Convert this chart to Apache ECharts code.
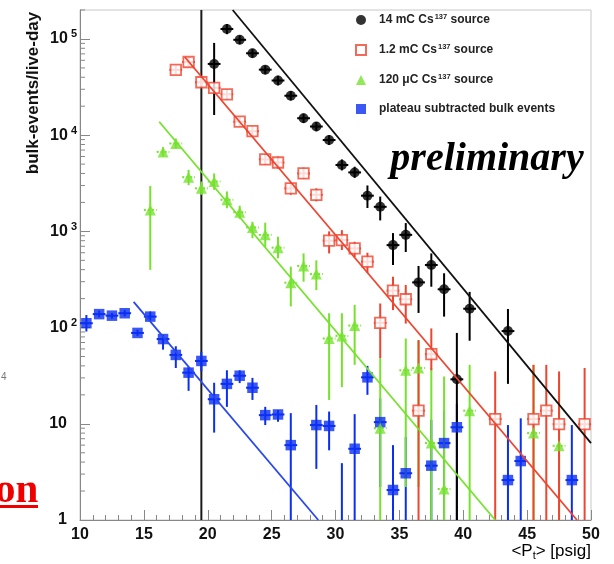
<!DOCTYPE html>
<html>
<head>
<meta charset="utf-8">
<script src="https://cdn.jsdelivr.net/npm/echarts@6/dist/echarts.min.js"></script>
<style>
  html, body { margin: 0; padding: 0; background: #fff; }
  #chart { width: 614px; height: 564px; }
</style>
</head>
<body>
<div id="chart"></div>
<script>
// bin centres (psig), rate (bulk-events/live-day) and error bar ends
const blackX = [20.5, 21.5, 22.5, 23.5, 24.5, 25.5, 26.5, 27.5, 28.5, 29.5, 30.5, 31.5, 32.5, 33.5, 34.5, 35.5, 36.5, 37.5, 38.5, 39.5, 40.5, 43.5];
const blackY = [55000, 127000, 98000, 71000, 48000, 37000, 25700, 15000, 12300, 8900, 4900, 4100, 2350, 1800, 720, 920, 295, 447, 250, 29, 157, 92];
const blackLo = [16200, 112000, 88000, 64000, 43000, 33000, 23000, 13400, 11000, 7900, 4300, 3600, 1750, 1300, 447, 610, 142, 266, 130, 0.5, 73, 26];
const blackHi = [91000, 143000, 109000, 79000, 53000, 41500, 28700, 16800, 13700, 10000, 5600, 4700, 3000, 2300, 960, 1220, 437, 590, 367, 88, 235, 156];

const redX = [17.5, 18.5, 19.5, 20.5, 21.5, 22.5, 23.5, 24.5, 25.5, 26.5, 27.5, 28.5, 29.5, 30.5, 31.5, 32.5, 33.5, 34.5, 35.5, 36.5, 37.5, 42.5, 45.5, 46.5, 47.5, 49.5];
const redY = [47700, 57600, 35500, 31000, 26600, 13800, 11000, 5600, 5200, 2800, 4000, 2400, 800, 813, 665, 484, 112, 242, 197, 13.7, 53, 11.2, 11.2, 13.7, 9.9, 9.9];
const redLo = [43000, 52000, 32000, 27500, 23500, 12300, 9800, 4900, 4500, 2400, 3500, 2050, 590, 640, 540, 370, 48, 152, 110, 0.5, 36, 0.5, 0.5, 0.5, 0.5, 0.5];
const redHi = [53000, 64000, 39500, 35000, 30000, 15500, 12400, 6400, 6000, 3250, 4600, 2800, 1000, 1030, 780, 600, 178, 338, 277, 74, 98, 35, 41, 41, 35, 38];

const greenX = [15.5, 16.5, 17.5, 18.5, 19.5, 20.5, 21.5, 22.5, 23.5, 24.5, 25.5, 26.5, 27.5, 28.5, 29.5, 30.5, 31.5, 33.5, 35.5, 36.5, 37.5, 38.5, 40.5, 45.5, 47.5];
const greenY = [1670, 6700, 8200, 3660, 2800, 3300, 2130, 1580, 1100, 920, 677, 293, 437, 360, 77, 82, 105, 9, 36, 38, 6.3, 2.1, 13.7, 8, 5.9];
const greenLo = [398, 6000, 7300, 3020, 2400, 2700, 1740, 1350, 850, 690, 525, 166, 300, 245, 17.7, 24, 41, 0.5, 2.2, 2.2, 0.5, 0.5, 0.5, 0.5, 0.5];
const greenHi = [2960, 7500, 9200, 4360, 3300, 4000, 2600, 1850, 1260, 1230, 880, 430, 590, 500, 141, 141, 172, 48, 77, 74, 38, 31, 41, 41, 28];

const blueX = [10.5, 11.5, 12.5, 13.5, 14.5, 15.5, 16.5, 17.5, 18.5, 19.5, 20.5, 21.5, 22.5, 23.5, 24.5, 25.5, 26.5, 28.5, 29.5, 30.5, 31.5, 32.5, 33.5, 34.5, 35.5, 37.5, 38.5, 39.5, 43.5, 44.5, 48.5];
const blueY = [111, 138, 133, 141, 88, 130, 76, 52, 34, 45, 18, 26, 31.6, 23.7, 12.3, 12.5, 6.0, 9.7, 9.5, 0.5, 5.5, 30.4, 10.4, 2.05, 3.06, 3.67, 6.3, 9.2, 2.6, 4.1, 2.6];
const blueLo = [91, 128, 124, 131, 82, 118, 59, 38, 22, 35, 8.1, 15, 26.5, 17.7, 9.7, 10.5, 0.5, 3.4, 5.3, 0.5, 0.5, 20, 2.2, 0.5, 0.5, 0.5, 0.5, 0.5, 0.5, 0.5, 0.5];
const blueHi = [135, 150, 142, 152, 95, 147, 84, 64, 39, 56, 26.7, 36, 36, 30, 15, 13.9, 12.9, 15.7, 13.4, 3.9, 12.6, 40, 18.4, 6.0, 7.3, 11, 13.7, 16.1, 9.7, 11.4, 9.7];

// exponential fits, given by their two end points
const fitBlack = [[21.95, 200000], [50, 6.3]];
const fitRed = [[18.2, 65000], [48.9, 1]];
const fitGreen = [[16.2, 13800], [42.5, 1]];
const fitBlue = [[14.2, 185], [28.65, 1]];

const cutPressure = 19.5;

const seriesNames = ['14 mC Cs137 source', '1.2 mC Cs137 source', '120 \u03bcC Cs137 source', 'plateau subtracted bulk events'];

const Y_MIN = 1, Y_MAX = 200000;
const FONT = '"Liberation Sans", Arial, Helvetica, sans-serif';
const C = { black: '#000000', red: '#ef4530', green: '#76e22e', blue: '#0a2ef2' };

// minor ticks for the log axis (2..9 in each decade)
const yMinorTicks = [];
for (let d = 1; d < Y_MAX; d *= 10) {
  for (let k = 2; k <= 9; k++) if (k * d <= Y_MAX) yMinorTicks.push(k * d);
}

function errorBars(xs, ys, lo, hi, color, dashed) {
  return {
    type: 'custom',
    silent: true,
    z: 3,
    clip: true,
    data: xs.map((x, i) => [x, ys[i], lo[i], hi[i]]),
    renderItem(params, api) {
      const x = api.value(0), v = api.value(1);
      const l = Math.max(api.value(2), Y_MIN), h = Math.min(api.value(3), Y_MAX);
      const kids = [];
      if (h > l) {
        const a = api.coord([x, l]), b = api.coord([x, h]);
        kids.push({ type: 'line', shape: { x1: a[0], y1: a[1], x2: b[0], y2: b[1] },
          style: { stroke: color, lineWidth: 2 } });
      }
      if (v >= Y_MIN) {
        const a = api.coord([x - 0.5, v]), b = api.coord([x + 0.5, v]);
        kids.push({ type: 'line', shape: { x1: a[0], y1: a[1], x2: b[0], y2: b[1] },
          style: { stroke: color, lineWidth: 2, lineDash: dashed ? [2, 2] : null } });
      }
      return { type: 'group', children: kids };
    }
  };
}

function markers(name, xs, ys, symbol, size, itemStyle) {
  return {
    type: 'scatter', name, symbol, symbolSize: size, z: 4, clip: true,
    data: xs.map((x, i) => [x, ys[i]]),
    itemStyle
  };
}

function fitLine(pts, color) {
  return {
    type: 'line', data: pts, showSymbol: false, silent: true, z: 5,
    lineStyle: { color, width: 1.8 }
  };
}

const chart = echarts.init(document.getElementById('chart'));

chart.setOption({
  animation: false,
  backgroundColor: '#fff',
  grid: { left: 80, right: 23, top: 10, bottom: 44, show: true, borderColor: '#c8c8c8', borderWidth: 1 },
  legend: {
    orient: 'vertical', left: 350, top: 8,
    itemWidth: 10, itemHeight: 10, itemGap: 17,
    data: [
      { name: seriesNames[0], icon: 'circle' },
      { name: seriesNames[1], icon: 'rect' },
      { name: seriesNames[2], icon: 'triangle' },
      { name: seriesNames[3], icon: 'rect' }
    ],
    formatter: name => {
      const i = name.indexOf('Cs137');
      if (i < 0) return '{p|}{t|' + name + '}';
      return '{p|}{t|' + name.slice(0, i) + 'Cs}{s|137}{t|' + name.slice(i + 5) + '}';
    },
    textStyle: {
      fontFamily: FONT, color: '#222',
      rich: {
        p: { width: 8, lineHeight: 14 },
        t: { fontFamily: FONT, fontSize: 12, fontWeight: 'bold', color: '#222', lineHeight: 14 },
        s: { fontFamily: FONT, fontSize: 7.5, fontWeight: 'bold', color: '#222', lineHeight: 10, verticalAlign: 'top', padding: [0, 0, 0, 1] }
      }
    }
  },
  xAxis: {
    type: 'value', min: 10, max: 50, interval: 5,
    axisLine: { lineStyle: { color: '#888' } },
    axisTick: { inside: true, length: 10, lineStyle: { color: '#888' } },
    minorTick: { show: true, splitNumber: 5, length: 5, lineStyle: { color: '#888' } },
    splitLine: { show: false },
    axisLabel: { fontFamily: FONT, fontSize: 16, fontWeight: 'bold', color: '#111', margin: 7 }
  },
  yAxis: {
    type: 'log', logBase: 10, min: Y_MIN, max: Y_MAX,
    axisLine: { show: true, lineStyle: { color: '#888' } },
    axisTick: { inside: true, length: 10, lineStyle: { color: '#888' } },
    splitLine: { show: false },
    axisLabel: {
      margin: 3, showMaxLabel: false,
      formatter: v => {
        const e = Math.log10(v);
        if (Math.abs(e - Math.round(e)) > 1e-6) return '';
        const n = Math.round(e);
        if (n === 0) return '{n|1}';
        if (n === 1) return '{n|10}';
        return '{b|10}{e|' + n + '}';
      },
      rich: {
        n: { fontFamily: FONT, fontSize: 16, fontWeight: 'bold', color: '#111', lineHeight: 20, padding: [0, 10, 0, 0] },
        b: { fontFamily: FONT, fontSize: 16, fontWeight: 'bold', color: '#111', lineHeight: 20 },
        e: { fontFamily: FONT, fontSize: 11, fontWeight: 'bold', color: '#111', lineHeight: 12, verticalAlign: 'top', padding: [0, 0, 0, 3] }
      }
    }
  },
  series: [
    {
      type: 'custom', silent: true, z: 2, clip: false,
      data: yMinorTicks.map(v => [10, v]),
      renderItem(params, api) {
        const p = api.coord([10, api.value(1)]);
        return { type: 'line', shape: { x1: p[0], y1: p[1], x2: p[0] + 5, y2: p[1] }, style: { stroke: '#888', lineWidth: 1 } };
      }
    },
    {
      type: 'line', silent: true, showSymbol: false, z: 2,
      data: [[cutPressure, Y_MIN], [cutPressure, Y_MAX]],
      lineStyle: { color: '#1a1a1a', width: 2 }
    },
    errorBars(blueX, blueY, blueLo, blueHi, C.blue, false),
    errorBars(greenX, greenY, greenLo, greenHi, C.green, true),
    errorBars(redX, redY, redLo, redHi, C.red, false),
    errorBars(blackX, blackY, blackLo, blackHi, C.black, false),
    markers(seriesNames[3], blueX, blueY, 'rect', 10.5, { color: C.blue }),
    markers(seriesNames[2], greenX, greenY, 'triangle', 11, { color: C.green }),
    markers(seriesNames[1], redX, redY, 'rect', 10.5, { color: '#fff', borderColor: C.red, borderWidth: 1.8 }),
    markers(seriesNames[0], blackX, blackY, 'circle', 10, { color: C.black }),
    fitLine(fitBlue, '#2a48f0'),
    fitLine(fitGreen, C.green),
    fitLine(fitRed, C.red),
    fitLine(fitBlack, '#111')
  ],
  graphic: [
    {
      type: 'text', x: 33, y: 93, rotation: Math.PI / 2,
      style: { text: 'bulk-events/live-day', font: 'bold 17px ' + FONT, fill: '#111', align: 'center', verticalAlign: 'middle' }
    },
    {
      type: 'text', x: 591, y: 551,
      style: {
        text: '{a|<P}{s|t}{a|> [psig]}', align: 'right', verticalAlign: 'middle',
        rich: {
          a: { fontFamily: FONT, fontSize: 17, color: '#111', lineHeight: 20 },
          s: { fontFamily: FONT, fontSize: 11, color: '#111', lineHeight: 11, verticalAlign: 'bottom' }
        }
      }
    },
    {
      type: 'text', x: 487, y: 160,
      style: { text: 'preliminary', font: 'italic bold 40px "Liberation Serif", serif', fill: '#000', align: 'center', verticalAlign: 'middle' }
    },
    {
      type: 'text', x: -5, y: 491,
      style: { text: 'on', font: 'bold 41px "Liberation Serif", serif', fill: '#ee0000', align: 'left', verticalAlign: 'middle' }
    },
    { type: 'rect', shape: { x: 0, y: 505, width: 38, height: 3 }, style: { fill: '#ee0000' } },
    {
      type: 'text', x: 1, y: 377,
      style: { text: '4', font: '10px ' + FONT, fill: '#777', align: 'left', verticalAlign: 'middle' }
    }
  ]
});
</script>
</body>
</html>
